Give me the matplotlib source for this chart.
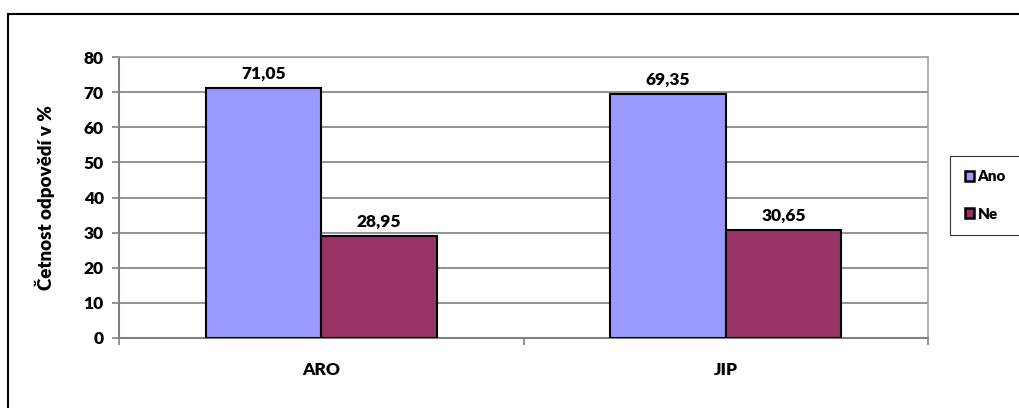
import matplotlib.pyplot as plt
from matplotlib.patches import Patch, Rectangle
import numpy as np

categories = ["ARO", "JIP"]
series = ["Ano", "Ne"]
ano = [71.05, 69.35]
ne = [28.95, 30.65]
colors = ["#9999FF", "#993366"]

plt.rcParams["font.family"] = ["Lato", "DejaVu Sans"]
plt.rcParams["font.weight"] = "heavy"
fw = "heavy"

fig = plt.figure(figsize=(10.19, 4.08), dpi=100)
ax = fig.add_axes([119 / 1019, 1 - 338 / 408, (928 - 119) / 1019, (338 - 57) / 408])

x = np.arange(len(categories))
w = 0.285
b1 = ax.bar(x - w / 2, ano, w, color=colors[0], edgecolor="black", linewidth=1.5, zorder=3)
b2 = ax.bar(x + w / 2, ne, w, color=colors[1], edgecolor="black", linewidth=1.5, zorder=3)

for bars, vals in ((b1, ano), (b2, ne)):
    for r, v in zip(bars, vals):
        ax.text(r.get_x() + r.get_width() / 2, v + 2.0, f"{v:.2f}".replace(".", ","),
                ha="center", va="bottom", fontsize=12.5, fontweight=fw)

ax.set_xlim(-0.5, 1.5)
ax.set_ylim(0, 80)
ax.set_yticks(range(0, 81, 10))
ax.yaxis.grid(True, color="#808080", linewidth=1.2, zorder=0)
ax.set_axisbelow(True)

# category labels between boundary ticks
ax.set_xticks([-0.5, 0.5, 1.5])
ax.set_xticklabels([])
ax.set_xticks(x, minor=True)
ax.set_xticklabels(categories, minor=True, fontsize=12.5, fontweight=fw)
ax.tick_params(axis="x", which="minor", length=0, pad=17)
ax.tick_params(axis="x", which="major", length=5, width=1.2, color="#808080")
ax.tick_params(axis="y", length=5, width=1.2, color="#808080", labelsize=12.5, pad=6)
for lbl in ax.get_yticklabels():
    lbl.set_fontweight(fw)

for s in ("top", "right"):
    ax.spines[s].set_color("#a0a0a0")
    ax.spines[s].set_linewidth(1.2)
for s in ("left", "bottom"):
    ax.spines[s].set_color("#808080")
    ax.spines[s].set_linewidth(1.5)

ax.set_ylabel("Četnost odpovědí v %", fontsize=13.5, fontweight=fw)
ax.yaxis.set_label_coords(-64 / 809, 0.5)

handles = [Patch(facecolor=c, edgecolor="black", linewidth=1.8) for c in colors]
leg = fig.legend(handles, series, loc="center left", bbox_to_anchor=(950 / 1019, 1 - 195.5 / 408),
                 frameon=True, fancybox=False, edgecolor="black", handlelength=0.65,
                 handleheight=0.65, handletextpad=0.2, labelspacing=1.6, borderpad=0.95,
                 borderaxespad=0, prop={"weight": fw, "size": 11})
leg.get_frame().set_linewidth(0.8)

# outer chart border
fig.patches.append(Rectangle((7.5 / 1019, -0.1), 1.2, 1 - 13.5 / 408 + 0.1,
                             transform=fig.transFigure, fill=False, edgecolor="black",
                             linewidth=1.5))

fig.savefig("out.png", dpi=100)
